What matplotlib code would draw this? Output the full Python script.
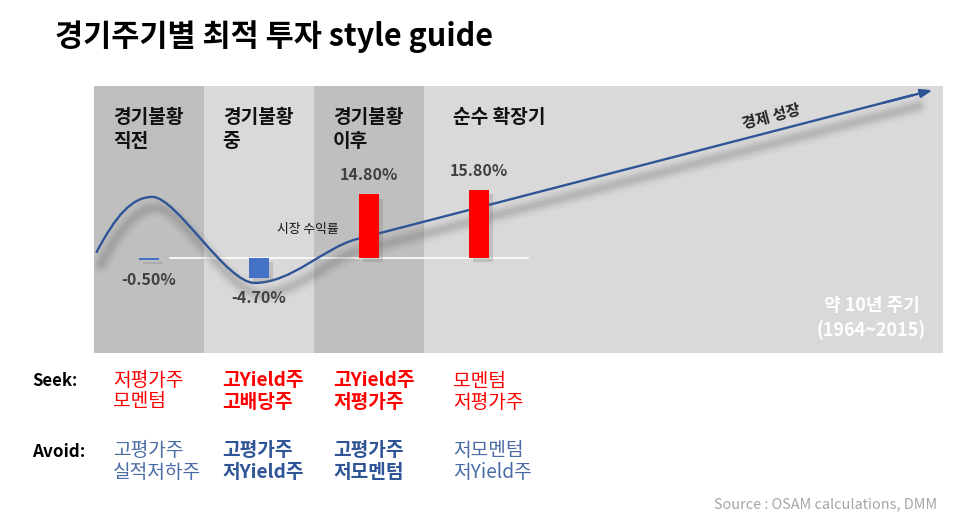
import matplotlib
matplotlib.use("Agg")
import matplotlib.pyplot as plt
from matplotlib.path import Path
from matplotlib.patches import PathPatch
import matplotlib.patheffects as pe
import matplotlib.transforms as mtransforms

plt.rcParams['font.family'] = ['Noto Sans CJK KR', 'DejaVu Sans']

# ---------------- data ----------------
title = "경기주기별 최적 투자 style guide"
phases = [["경기불황", "직전"], ["경기불황", "중"], ["경기불황", "이후"], ["순수 확장기"]]
band_edges = [0, 1, 2, 3, 7.72]
band_colors = ["#bfbfbf", "#d9d9d9", "#bfbfbf", "#d9d9d9"]
bar_pos = [0.5, 1.5, 2.5, 3.5]
returns = [-0.5, -4.7, 14.8, 15.8]
return_labels = ["-0.50%", "-4.70%", "14.80%", "15.80%"]

# schematic economic-cycle curve (cubic Bezier control points, data units)
cycle_x = [0.02, 0.20, 0.35, 0.53, 0.75, 1.20, 1.46, 1.80, 2.09, 2.39, 7.45]
cycle_y = [1.2, 10.0, 14.2, 14.2, 14.2, -5.8, -5.8, -5.8, 2.4, 4.4, 37.9]
arrow_tip = (7.65, 39.2)
cycle_note = ["약 10년 주기", "(1964~2015)"]

seek_items = [["저평가주", "모멘텀"], ["고Yield주", "고배당주"],
              ["고Yield주", "저평가주"], ["모멘텀", "저평가주"]]
avoid_items = [["고평가주", "실적저하주"], ["고평가주", "저Yield주"],
               ["고평가주", "저모멘텀"], ["저모멘텀", "저Yield주"]]
item_bold = [False, True, True, False]

W, H = 966, 523
fig = plt.figure(figsize=(W / 100, H / 100), dpi=100)
fig.patch.set_facecolor("white")

def fx(px):
    return px / W

def fy(py):
    return 1 - py / H

# panel axes
left, right, top, bottom = 94, 943, 86, 353
ax = fig.add_axes([fx(left), fy(bottom), (right - left) / W, (bottom - top) / H])
ax.set_xlim(band_edges[0], band_edges[-1])
ax.set_ylim(-22.1, 40)
ax.axis("off")

for i in range(len(band_colors)):
    ax.axvspan(band_edges[i], band_edges[i + 1], color=band_colors[i], lw=0, zorder=0)

# baseline
ax.plot([0.69, 3.95], [0, 0], color="white", lw=1.2, zorder=2)

# curve
codes = [Path.MOVETO] + [Path.CURVE4] * 9 + [Path.LINETO]
path = Path(list(zip(cycle_x, cycle_y)), codes)
for lw, a in [(14, 0.035), (10, 0.05), (7, 0.06), (4, 0.08)]:
    tr = mtransforms.offset_copy(ax.transData, fig=fig, x=5, y=-11, units="dots")
    ax.add_patch(PathPatch(path, facecolor="none", edgecolor="#404040", lw=lw,
                           alpha=a, transform=tr, zorder=3, capstyle="round"))
ax.add_patch(PathPatch(path, facecolor="none", edgecolor="#2f5597", lw=1.7, zorder=4))
ax.annotate("", xy=arrow_tip, xytext=(cycle_x[-1] - 0.3, cycle_y[-1] - 0.3 * 6.63),
            arrowprops=dict(arrowstyle="-|>,head_length=0.7,head_width=0.25",
                            color="#2f5597", lw=1.7), zorder=4)

# bars
colors = ["#4472c4" if v < 0 else "#ff0000" for v in returns]
ax.bar(bar_pos, returns, width=0.18, color=colors, zorder=5,
       path_effects=[pe.withSimplePatchShadow(offset=(3, -3), shadow_rgbFace="#666666", alpha=0.22)])
for x, v, lab in zip(bar_pos, returns, return_labels):
    off = 14 if v > 0 else -14
    ax.annotate(lab, xy=(x, v), xytext=(0, off), textcoords="offset points",
                ha="center", va="center", fontsize=11.5, fontweight="bold",
                color="#404040", zorder=6)

# phase labels (pixel rows 118 / 142)
label_x = [0.17, 1.17, 2.17, 3.26]
row_y = [(258 - 118) / 4.3, (258 - 142) / 4.3]
for x, lines in zip(label_x, phases):
    for ry, t in zip(row_y, lines):
        ax.text(x, ry, t, ha="left", va="center", fontsize=13.8, fontweight="bold",
                color="#111111", zorder=6)

ax.text(1.94, 6.7, "시장 수익률", ha="center", va="center", fontsize=9.2,
        color="#111111", zorder=6)
ax.text(6.16, 33.0, "경제 성장", ha="center", va="center", fontsize=11,
        fontweight="bold", rotation=14.5, color="#222222", zorder=6)
for ry, t in zip([(258 - 306) / 4.3, (258 - 330) / 4.3], cycle_note):
    ax.text(7.07, ry, t, ha="center", va="center", fontsize=13,
            fontweight="bold", color="white", zorder=6)

# title
fig.text(fx(55), fy(37), title, ha="left", va="center", fontsize=22,
         fontweight="bold", color="black")

# seek / avoid
fig.text(fx(32), fy(381), "Seek:", ha="left", va="center", fontsize=12,
         fontweight="bold", color="black")
fig.text(fx(32), fy(452), "Avoid:", ha="left", va="center", fontsize=12.3,
         fontweight="bold", color="black")
col_x = [113, 222, 333, 453]
for cx, s, a, b in zip(col_x, seek_items, avoid_items, item_bold):
    fw = "bold" if b else "normal"
    fig.text(fx(cx), fy(381), s[0], ha="left", va="center", fontsize=13.8,
             fontweight=fw, color="#ff0000")
    fig.text(fx(cx), fy(402), s[1], ha="left", va="center", fontsize=13.8,
             fontweight=fw, color="#ff0000")
    acol = "#2f5597" if b else "#4a6ca6"
    fig.text(fx(cx), fy(451), a[0], ha="left", va="center", fontsize=13.8,
             fontweight=fw, color=acol)
    fig.text(fx(cx), fy(472), a[1], ha="left", va="center", fontsize=13.8,
             fontweight=fw, color=acol)

fig.text(fx(937), fy(504), "Source : OSAM calculations, DMM", ha="right",
         va="center", fontsize=10.4, color="#a6a6a6")

fig.savefig("out.png", dpi=100)
